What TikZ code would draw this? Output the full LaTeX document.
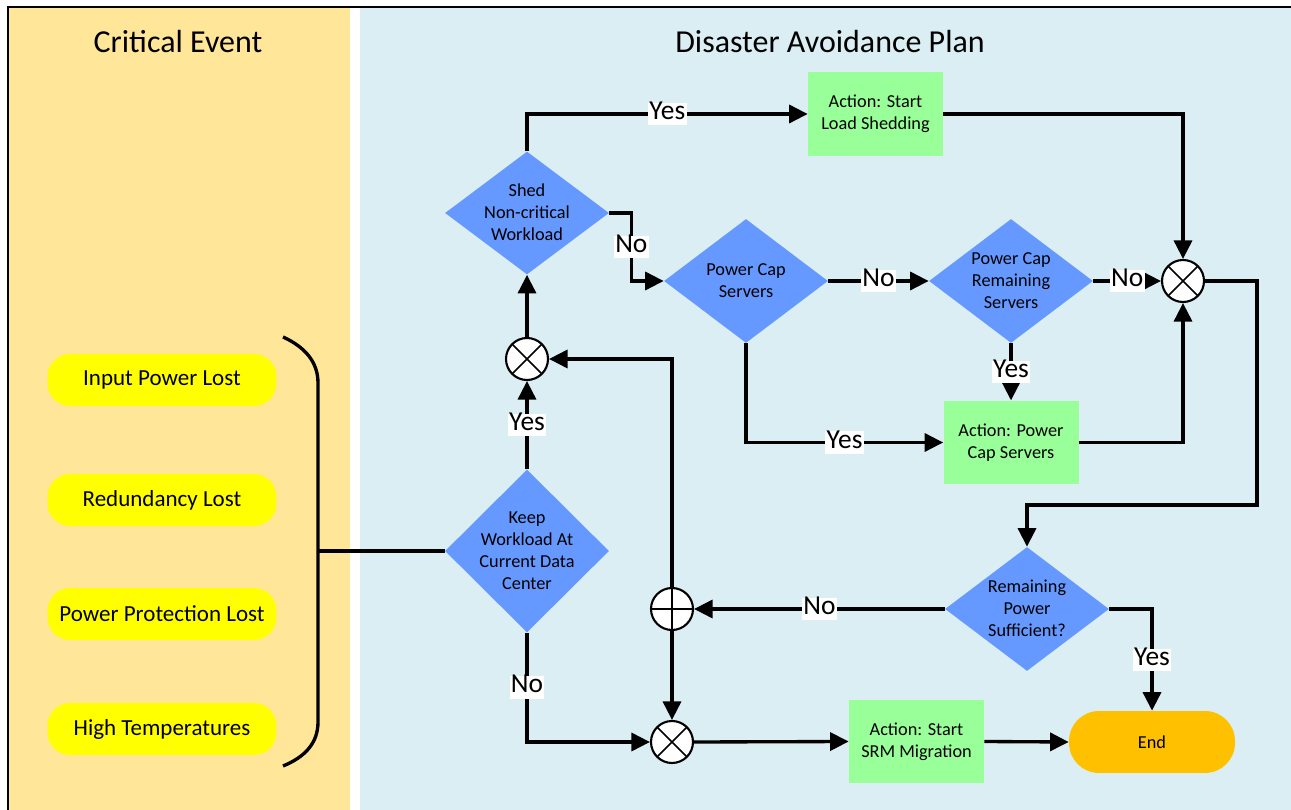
\documentclass[tikz,border=0pt]{standalone}
\usepackage{fontspec}
\setmainfont{Carlito}
\usetikzlibrary{arrows.meta,shapes.geometric}
\definecolor{EvtOrange}{HTML}{FFE699}
\definecolor{PlanBlue}{HTML}{DAEEF3}
\definecolor{DecBlue}{HTML}{6699FF}
\definecolor{ActGreen}{HTML}{99FF99}
\definecolor{EvtYellow}{HTML}{FFFF00}
\definecolor{EndOrange}{HTML}{FFC000}
\newcommand{\tfont}{\fontsize{18.2}{22}\selectfont}
\newcommand{\efont}{\fontsize{13.1}{16}\selectfont}
\newcommand{\dfont}{\fontsize{10.4}{12.5}\selectfont}
\newcommand{\lfont}{\fontsize{15.6}{18}\selectfont}
\newcommand{\dtxt}[1]{\raisebox{-.3em}[0pt][0pt]{\makebox[0pt]{\begin{tabular}{@{}c@{}}#1\end{tabular}}}}

\begin{document}
\begin{tikzpicture}[x=0.02cm,y=-0.02cm,
  dec/.style={diamond,fill=DecBlue,inner sep=0pt,minimum width=3.28cm,minimum height=2.48cm,font=\dfont},
  act/.style={fill=ActGreen,inner sep=0pt,minimum width=2.7cm,minimum height=1.67cm,align=center,font=\dfont},
  evt/.style={fill=EvtYellow,rounded corners=0.45cm,minimum width=4.58cm,minimum height=1.04cm,font=\efont},
  fin/.style={fill=EndOrange,rounded corners=0.6cm,minimum width=3.32cm,minimum height=1.24cm,font=\dfont},
  joint/.style={circle,draw,fill=white,line width=1.2pt,minimum size=0.84cm,inner sep=0pt},
  xjoint/.style={joint,path picture={\draw[line width=0.9pt] (path picture bounding box.north west) -- (path picture bounding box.south east)
    (path picture bounding box.north east) -- (path picture bounding box.south west);}},
  pjoint/.style={joint,path picture={\draw[line width=0.9pt] (path picture bounding box.north) -- (path picture bounding box.south)
    (path picture bounding box.east) -- (path picture bounding box.west);}},
  lien/.style={-{Triangle[length=0.37cm,width=0.36cm]},line width=1.9pt},
  lbl/.style={fill=white,inner xsep=0.8pt,inner ysep=0pt,text height=0.95em,text depth=0.32em,font=\lfont}]
  \useasboundingbox (0,0) rectangle (1291,810);
  \fill[EvtOrange] (8,7) rectangle (350,810);
  \fill[PlanBlue] (360,7) rectangle (1291,810);
  \draw[line width=0.8pt] (1291,7) -- (8,7) -- (8,810);
  \node[font=\tfont] (evttitle) at (178,42) {Critical Event};
  \node[font=\tfont] (plantitle) at (830,42) {Disaster Avoidance Plan};

  \node[evt] (ipl) at (162,380) {Input Power Lost};
  \node[evt] (rdl) at (162,500) {Redundancy Lost};
  \node[evt] (ppl) at (162,614) {Power Protection Lost};
  \node[evt] (hit) at (162,729) {High Temperatures};
  \draw[line width=1.9pt] (283,337) .. controls (305,347) and (318,362) .. (318,383) -- (318,722)
    .. controls (318,743) and (305,757) .. (283,766);
  \coordinate (brc) at (318,551);

  \node[dec,minimum height=3.26cm] (keep) at (527,551) {\dtxt{Keep\\Workload At\\Current Data\\Center}};
  \node[dec,minimum height=2.46cm] (shed) at (527,213) {\dtxt{Shed\\Non-critical\\Workload}};
  \node[dec] (pcs) at (746,281) {\dtxt{Power Cap\\Servers}};
  \node[dec] (pcrs) at (1011,281) {\dtxt{Power Cap\\Remaining\\Servers}};
  \node[dec] (rem) at (1027,609) {\dtxt{Remaining\\Power\\Sufficient?}};
  \node[act] (shedact) at (875.5,114) {Action: Start\\Load Shedding};
  \node[act] (pcact) at (1011,442.5) {Action: Power\\Cap Servers};
  \node[act] (srm) at (916.5,741.5) {Action: Start\\SRM Migration};
  \node[fin] (end) at (1152,742) {End};
  \node[xjoint] (xu) at (527,359) {};
  \node[xjoint] (xr) at (1183,281) {};
  \node[pjoint] (plus) at (672,609) {};
  \node[xjoint] (xb) at (672,742) {};

  \draw[line width=1.9pt] (brc) -- (keep.west);
  \draw[lien] (keep.north) -- node[lbl]{Yes} (xu.south);
  \draw[lien] (xu.north) -- (shed.south);
  \draw[lien] (shed.north) |- node[lbl,pos=0.75]{Yes} (shedact.west);
  \draw[lien] (shedact.east) -| (xr.north);
  \draw[lien] (shed.east) -- ++(22,0) |- node[lbl,pos=0.25]{No} (pcs.west);
  \draw[lien] (pcs.east) -- node[lbl]{No} (pcrs.west);
  \draw[lien] (pcrs.east) -- node[lbl]{No} (xr.west);
  \draw[lien] (pcrs.south) -- node[lbl]{Yes} (pcact.north);
  \draw[lien] (pcs.south) |- node[lbl,pos=0.75]{Yes} (pcact.west);
  \draw[lien] (pcact.east) -| (xr.south);
  \draw[lien] (xr.east) -- ++(52,0) -- ++(0,224) -| (rem.north);
  \draw[lien] (rem.west) -- node[lbl]{No} (plus.east);
  \draw[lien] (rem.east) -| node[lbl,pos=0.75]{Yes} (end.north);
  \draw[lien] (plus.north) |- (xu.east);
  \draw[lien] (plus.south) -- (xb.north);
  \draw[lien] (keep.south) |- node[lbl,pos=0.25]{No} (xb.west);
  \draw[lien] (xb.east) -- (srm.west);
  \draw[lien] (srm.east) -- (end.west);
\end{tikzpicture}
\end{document}
